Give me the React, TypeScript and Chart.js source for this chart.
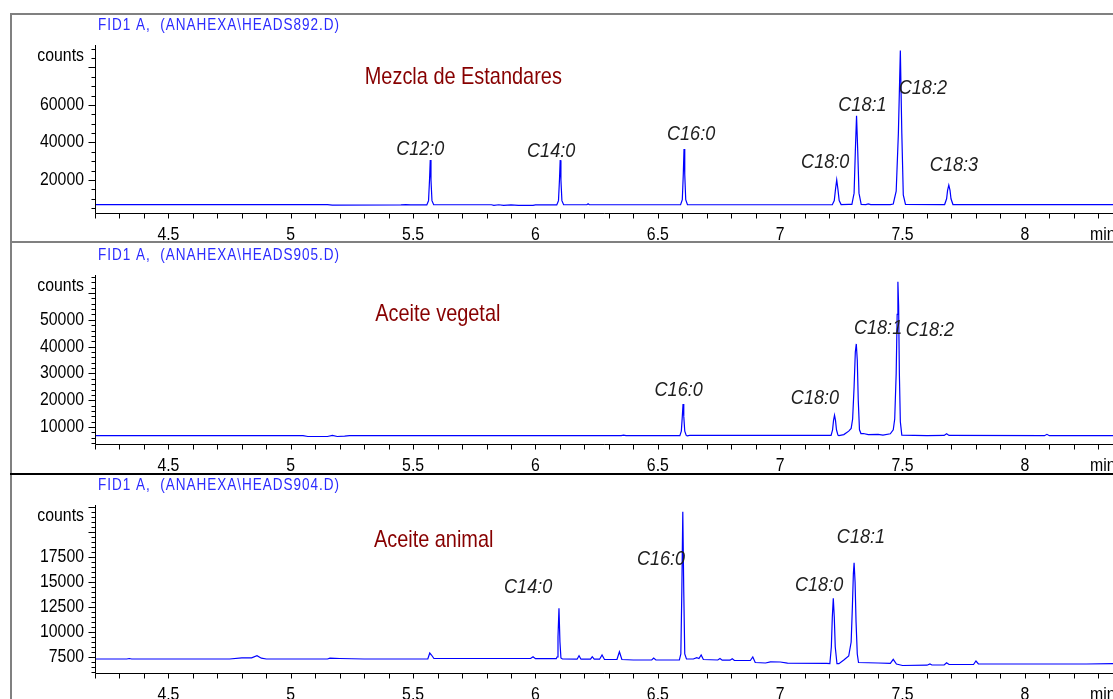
import React, { useEffect, useRef } from 'react';
import { Chart, registerables } from 'chart.js';

Chart.register(...registerables);

// ---------- shared axis data ----------
const xMin = 4.2;
const xMax = 8.36;
const xTickLabels = [4.5, 5, 5.5, 6, 6.5, 7, 7.5, 8];

// ---------- Panel 1 : Mezcla de Estandares ----------
const title1 = 'FID1 A,  (ANAHEXA\\HEADS892.D)';
const name1 = 'Mezcla de Estandares';
const times1 = [4.2, 4.8, 5.15, 5.17, 5.45, 5.47, 5.49, 5.556, 5.563, 5.567, 5.57, 5.573, 5.577, 5.584, 5.82, 5.83, 5.85, 5.87, 5.9, 5.93, 5.99, 6.0, 6.087, 6.094, 6.098, 6.101, 6.104, 6.108, 6.115, 6.21, 6.215, 6.22, 6.593, 6.6, 6.604, 6.607, 6.61, 6.614, 6.621, 7.2, 7.213, 7.221, 7.226, 7.231, 7.236, 7.241, 7.249, 7.28, 7.293, 7.302, 7.307, 7.312, 7.317, 7.322, 7.331, 7.35, 7.36, 7.37, 7.45, 7.462, 7.474, 7.483, 7.491, 7.497, 7.503, 7.512, 7.66, 7.672, 7.68, 7.684, 7.689, 7.694, 7.698, 7.706, 8.36];
const counts1 = [6900, 6900, 6850, 6650, 6700, 6900, 6700, 6700, 9000, 20000, 30700, 20000, 9000, 6800, 6800, 6500, 6800, 6500, 6700, 6500, 6500, 6700, 6700, 9000, 20000, 30600, 20000, 9000, 6800, 6800, 7300, 6800, 6800, 9500, 23000, 36500, 23000, 9500, 6800, 6800, 6800, 9000, 15000, 20000, 15000, 9000, 6900, 7000, 7000, 13000, 35000, 54300, 35000, 13000, 7000, 6900, 7300, 6900, 6900, 7200, 14000, 45000, 89000, 45000, 12000, 7000, 6900, 6900, 10000, 14500, 17300, 14500, 10000, 6900, 6900];
const yTicks1 = [20000, 40000, 60000];
const peakNames1 = ['C12:0', 'C14:0', 'C16:0', 'C18:0', 'C18:1', 'C18:2', 'C18:3'];
const peakLabelTimes1 = [5.529, 6.064, 6.636, 7.184, 7.336, 7.583, 7.71];
const peakLabelCounts1 = [36530, 35470, 44530, 29600, 60000, 69070, 28000];

// ---------- Panel 2 : Aceite vegetal ----------
const title2 = 'FID1 A,  (ANAHEXA\\HEADS905.D)';
const name2 = 'Aceite vegetal';
const times2 = [4.2, 5.05, 5.07, 5.15, 5.17, 5.19, 5.22, 5.24, 6.35, 6.36, 6.37, 6.59, 6.596, 6.6, 6.603, 6.606, 6.61, 6.616, 6.62, 6.63, 7.2, 7.208, 7.214, 7.218, 7.222, 7.226, 7.23, 7.236, 7.24, 7.26, 7.28, 7.29, 7.296, 7.302, 7.307, 7.311, 7.315, 7.319, 7.324, 7.33, 7.34, 7.36, 7.4, 7.42, 7.45, 7.462, 7.468, 7.474, 7.478, 7.481, 7.484, 7.487, 7.491, 7.497, 7.6, 7.67, 7.68, 7.69, 8.08, 8.09, 8.1, 8.36];
const counts2 = [6800, 6800, 6500, 6500, 6900, 6500, 6600, 6800, 6800, 7000, 6800, 6800, 8500, 14000, 18600, 14000, 8500, 6900, 6700, 6900, 6900, 6900, 9000, 12500, 14400, 12500, 9000, 7000, 6800, 7200, 8500, 9500, 13000, 25000, 38000, 41000, 35000, 20000, 9000, 7600, 7600, 7200, 7300, 7000, 7500, 9000, 13000, 30000, 52000, 64200, 55000, 30000, 12000, 7000, 6800, 6900, 7500, 6900, 6800, 7300, 6800, 6800];
const yTicks2 = [10000, 20000, 30000, 40000, 50000];
const peakNames2 = ['C16:0', 'C18:0', 'C18:1', 'C18:2'];
const peakLabelTimes2 = [6.585, 7.142, 7.4, 7.612];
const peakLabelCounts2 = [23830, 20850, 46940, 46200];

// ---------- Panel 3 : Aceite animal ----------
const title3 = 'FID1 A,  (ANAHEXA\\HEADS904.D)';
const name3 = 'Aceite animal';
const times3 = [4.2, 4.33, 4.34, 4.35, 4.6, 4.75, 4.8, 4.84, 4.862, 4.88, 4.9, 5.15, 5.16, 5.2, 5.3, 5.56, 5.568, 5.575, 5.585, 5.98, 5.99, 6.0, 6.085, 6.088, 6.092, 6.096, 6.1, 6.104, 6.11, 6.17, 6.178, 6.186, 6.225, 6.232, 6.24, 6.262, 6.272, 6.282, 6.333, 6.343, 6.353, 6.4, 6.475, 6.483, 6.492, 6.588, 6.594, 6.598, 6.602, 6.606, 6.61, 6.617, 6.645, 6.659, 6.668, 6.677, 6.686, 6.745, 6.754, 6.763, 6.795, 6.804, 6.813, 6.878, 6.888, 6.898, 6.94, 6.96, 7.0, 7.03, 7.19, 7.203, 7.209, 7.213, 7.217, 7.221, 7.225, 7.232, 7.24, 7.26, 7.28, 7.29, 7.295, 7.299, 7.302, 7.306, 7.31, 7.315, 7.32, 7.4, 7.45, 7.462, 7.475, 7.5, 7.6, 7.612, 7.62, 7.67, 7.68, 7.69, 7.79, 7.8, 7.81, 8.25, 8.36];
const counts3 = [7300, 7300, 7350, 7300, 7300, 7300, 7420, 7420, 7630, 7380, 7300, 7300, 7380, 7350, 7300, 7300, 7900, 7700, 7350, 7350, 7530, 7330, 7330, 7500, 9500, 12370, 9000, 7400, 7300, 7280, 7630, 7280, 7280, 7530, 7280, 7280, 7700, 7250, 7250, 8030, 7250, 7200, 7200, 7400, 7200, 7200, 7800, 14000, 22030, 14000, 7800, 7300, 7300, 7430, 7350, 7700, 7250, 7200, 7350, 7180, 7180, 7330, 7150, 7150, 7500, 6950, 6900, 7020, 7000, 6880, 6870, 6850, 8500, 11500, 13370, 11500, 8500, 6830, 6830, 7200, 7600, 9000, 12500, 15800, 16930, 15000, 11000, 7800, 6950, 6900, 6870, 7270, 6800, 6650, 6680, 6800, 6700, 6700, 6930, 6750, 6750, 7100, 6800, 6800, 6830];
const yTicks3 = [7500, 10000, 12500, 15000, 17500];
const peakNames3 = ['C14:0', 'C16:0', 'C18:0', 'C18:1'];
const peakLabelTimes3 = [5.97, 6.513, 7.159, 7.33];
const peakLabelCounts3 = [14500, 17300, 14700, 19500];

// ---------- layout / style ----------
const W = 1113;
const H = 699;
const FONT = '"Liberation Sans", Arial, sans-serif';
const LINE_BLUE = '#0000ff';
const TITLE_BLUE = '#2a2aff';
const DARK_RED = '#870000';
const LABEL_GRAY = '#1e1e1e';

type PanelCfg = {
  title: string;
  name: string;
  nameAt: [number, number];
  times: number[];
  counts: number[];
  yTicks: number[];
  yMin: number;
  yMax: number;
  yMinor: number;
  yMajor: number;
  peakNames: string[];
  peakTimes: number[];
  peakCounts: number[];
  canvasTop: number;
  canvasHeight: number;
  areaTop: number;
  areaBottom: number;
};

const panels: PanelCfg[] = [
  {
    title: title1, name: name1, nameAt: [5.705, 74930],
    times: times1, counts: counts1, yTicks: yTicks1,
    yMin: 2400, yMax: 92000, yMinor: 5000, yMajor: 20000,
    peakNames: peakNames1, peakTimes: peakLabelTimes1, peakCounts: peakLabelCounts1,
    canvasTop: 15, canvasHeight: 226, areaTop: 45, areaBottom: 213,
  },
  {
    title: title2, name: name2, nameAt: [5.601, 52160],
    times: times2, counts: counts2, yTicks: yTicks2,
    yMin: 3700, yMax: 66700, yMinor: 2000, yMajor: 10000,
    peakNames: peakNames2, peakTimes: peakLabelTimes2, peakCounts: peakLabelCounts2,
    canvasTop: 243, canvasHeight: 230, areaTop: 275, areaBottom: 444,
  },
  {
    title: title3, name: name3, nameAt: [5.584, 19200],
    times: times3, counts: counts3, yTicks: yTicks3,
    yMin: 5900, yMax: 22700, yMinor: 500, yMajor: 2500,
    peakNames: peakNames3, peakTimes: peakLabelTimes3, peakCounts: peakLabelCounts3,
    canvasTop: 475, canvasHeight: 224, areaTop: 505, areaBottom: 673,
  },
];

function drawNarrow(
  ctx: CanvasRenderingContext2D,
  text: string,
  x: number,
  y: number,
  font: string,
  sx: number,
  align: CanvasTextAlign,
  baseline: CanvasTextBaseline,
  color: string,
  spacing = 0
) {
  ctx.save();
  ctx.font = font;
  ctx.textAlign = align;
  ctx.textBaseline = baseline;
  ctx.fillStyle = color;
  (ctx as any).letterSpacing = `${spacing}px`;
  ctx.translate(x, y);
  ctx.scale(sx, 1);
  ctx.fillText(text, 0, 0);
  ctx.restore();
}

function Panel({ cfg }: { cfg: PanelCfg }) {
  const ref = useRef<HTMLCanvasElement | null>(null);

  useEffect(() => {
    if (!ref.current) return;
    const xAxisHeight = cfg.canvasHeight - (cfg.areaBottom - cfg.canvasTop);
    const decor = {
      id: 'chromDecor',
      afterDraw(chart: any) {
        const ctx: CanvasRenderingContext2D = chart.ctx;
        const xs = chart.scales.x;
        const ys = chart.scales.y;
        const a = chart.chartArea;
        ctx.save();
        // axes and tick marks
        ctx.strokeStyle = '#000';
        ctx.lineWidth = 1;
        const ax = Math.round(a.left) + 0.5;
        const ay = Math.round(a.bottom) + 0.5;
        ctx.beginPath();
        ctx.moveTo(ax, a.top);
        ctx.lineTo(ax, ay);
        ctx.lineTo(chart.width, ay);
        const ratio = Math.round(cfg.yMajor / cfg.yMinor);
        for (let k = Math.ceil(cfg.yMin / cfg.yMinor); k * cfg.yMinor <= cfg.yMax; k++) {
          const y = Math.round(ys.getPixelForValue(k * cfg.yMinor)) + 0.5;
          const len = k % ratio === 0 ? 7 : 4;
          ctx.moveTo(ax - len, y);
          ctx.lineTo(ax, y);
        }
        for (let k = Math.ceil(xMin * 10); k / 10 <= xMax; k++) {
          const x = Math.round(xs.getPixelForValue(k / 10)) + 0.5;
          ctx.moveTo(x, ay);
          ctx.lineTo(x, ay + 5);
        }
        ctx.stroke();
        ctx.restore();

        const tickFont = `18px ${FONT}`;
        const TS = 0.88;
        // tick labels from the library's ticks
        ys.ticks.forEach((t: any) => {
          drawNarrow(ctx, String(t.value), a.left - 11, ys.getPixelForValue(t.value), tickFont, TS, 'right', 'middle', '#000');
        });
        xs.ticks.forEach((t: any) => {
          drawNarrow(ctx, String(t.value), xs.getPixelForValue(t.value), ay + 26.5, tickFont, TS, 'center', 'alphabetic', '#000');
        });
        drawNarrow(ctx, 'counts', a.left - 11, a.top + 11, tickFont, TS, 'right', 'middle', '#000');
        drawNarrow(ctx, 'min', 1090, ay + 26.5, tickFont, TS, 'left', 'alphabetic', '#000');

        // panel title
        drawNarrow(ctx, cfg.title, 98, a.top - 20, `16.5px ${FONT}`, 0.82, 'left', 'middle', TITLE_BLUE, 1.2);

        // sample name
        drawNarrow(
          ctx,
          cfg.name,
          xs.getPixelForValue(cfg.nameAt[0]),
          ys.getPixelForValue(cfg.nameAt[1]),
          `24px ${FONT}`,
          0.83,
          'center',
          'middle',
          DARK_RED
        );

        // peak labels
        cfg.peakNames.forEach((n, i) => {
          drawNarrow(
            ctx,
            n,
            xs.getPixelForValue(cfg.peakTimes[i]),
            ys.getPixelForValue(cfg.peakCounts[i]),
            `italic 21px ${FONT}`,
            0.86,
            'center',
            'middle',
            LABEL_GRAY
          );
        });
      },
    };

    const chart = new Chart(ref.current, {
      type: 'line',
      data: {
        datasets: [
          {
            data: cfg.times.map((t, i) => ({ x: t, y: cfg.counts[i] })),
            borderColor: LINE_BLUE,
            borderWidth: 1.2,
            pointRadius: 0,
            tension: 0,
            fill: false,
          },
        ],
      },
      options: {
        animation: false,
        responsive: false,
        devicePixelRatio: 1,
        events: [],
        layout: { padding: { top: cfg.areaTop - cfg.canvasTop, left: 0, right: 0, bottom: 0 } },
        plugins: { legend: { display: false }, tooltip: { enabled: false }, title: { display: false } },
        scales: {
          x: {
            type: 'linear',
            min: xMin,
            max: xMax,
            grid: { display: false, drawTicks: false },
            border: { display: false },
            afterBuildTicks: (s: any) => {
              s.ticks = xTickLabels.map((v) => ({ value: v }));
            },
            afterFit: (s: any) => {
              s.height = xAxisHeight;
            },
            ticks: { display: false, autoSkip: false, maxRotation: 0, minRotation: 0 },
          },
          y: {
            type: 'linear',
            min: cfg.yMin,
            max: cfg.yMax,
            grid: { display: false, drawTicks: false },
            border: { display: false },
            afterBuildTicks: (s: any) => {
              s.ticks = cfg.yTicks.map((v) => ({ value: v }));
            },
            afterFit: (s: any) => {
              s.width = 95;
            },
            ticks: { display: false },
          },
        },
      },
      plugins: [decor],
    } as any);
    return () => chart.destroy();
  }, [cfg]);

  return (
    <canvas
      ref={ref}
      width={W}
      height={cfg.canvasHeight}
      style={{ position: 'absolute', left: 0, top: cfg.canvasTop, width: W, height: cfg.canvasHeight }}
    />
  );
}

export default function App() {
  return (
    <div
      style={{
        position: 'fixed',
        left: 0,
        top: 0,
        width: W,
        height: H,
        overflow: 'hidden',
        background: '#fff',
      }}
    >
      <div style={{ position: 'absolute', left: 10, top: 13, width: W - 10, height: 2, background: '#808080' }} />
      <div style={{ position: 'absolute', left: 10, top: 13, width: 2, height: H - 13, background: '#808080' }} />
      <div style={{ position: 'absolute', left: 10, top: 241, width: W - 10, height: 2, background: '#808080' }} />
      <div style={{ position: 'absolute', left: 10, top: 473, width: W - 10, height: 2, background: '#000' }} />
      {panels.map((p, i) => (
        <Panel key={i} cfg={p} />
      ))}
    </div>
  );
}
